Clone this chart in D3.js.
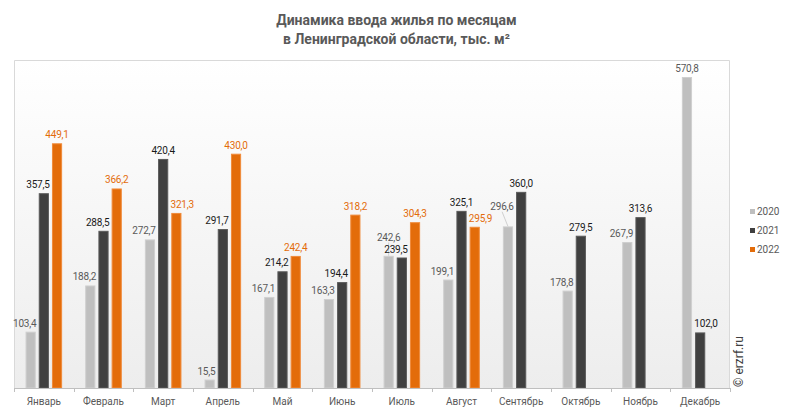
<!DOCTYPE html>
<html><head><meta charset="utf-8">
<script src="https://cdn.jsdelivr.net/npm/d3@7"></script>
<style>body{margin:0;background:#fff}svg{display:block}</style>
</head><body>
<script>
const months = ["Январь","Февраль","Март","Апрель","Май","Июнь","Июль","Август","Сентябрь","Октябрь","Ноябрь","Декабрь"];
const series = ["2020","2021","2022"];
const v2020 = [103.4,188.2,272.7,15.5,167.1,163.3,242.6,199.1,296.6,178.8,267.9,570.8];
const v2021 = [357.5,288.5,420.4,291.7,214.2,194.4,239.5,325.1,360.0,279.5,313.6,102.0];
const v2022 = [449.1,366.2,321.3,430.0,242.4,318.2,304.3,295.9,null,null,null,null];
const values = {"2020":v2020,"2021":v2021,"2022":v2022};
const colors = {"2020":"#bfbfbf","2021":"#404040","2022":"#e36c0a"};
const strokes = {"2020":"#cfcfcf","2021":"#5a5a5a","2022":"#f08a3a"};
const labelColors = {"2020":"#595959","2021":"#1a1a1a","2022":"#e36c0a"};
const titleLines = ["Динамика ввода жилья по месяцам","в Ленинградской области, тыс. м²"];

const W=793,H=415;
const L=14,R=730,T=60,B=388;
const FONT="Roboto, Arial, sans-serif";
const svg=d3.select("body").append("svg").attr("width",W).attr("height",H);
const defs=svg.append("defs");
const g=defs.append("linearGradient").attr("id","bg").attr("x1",0).attr("y1",0).attr("x2",0).attr("y2",1);
g.append("stop").attr("offset","0%").attr("stop-color","#ffffff");
g.append("stop").attr("offset","100%").attr("stop-color","#ededed");
svg.append("rect").attr("x",L).attr("y",T).attr("width",R-L).attr("height",B-T).attr("fill","url(#bg)");
svg.append("path").attr("d",`M${L+0.5},${B}V${T+0.5}H${R-0.5}V${B}`).attr("fill","none").attr("stroke","#d9d9d9").attr("stroke-width",1);

const x0=d3.scaleBand().domain(months).range([L,R]).padding(0);
const gw=x0.bandwidth()*0.613;
const x1=d3.scaleBand().domain(series).range([0,gw]).paddingInner(0.23).paddingOuter(0);
const y=d3.scaleLinear().domain([0,602]).range([B,T]);
const fmt=v=>v.toFixed(1).replace(".",",");

const barLayer=svg.append("g"), lineLayer=svg.append("g"), labelLayer=svg.append("g");
const bars=[];
months.forEach((m,i)=>{
  const gx=x0(m)+(x0.bandwidth()-gw)/2;
  series.forEach((s,si)=>{
    const v=values[s][i];
    if(v==null) return;
    const bx=gx+x1(s);
    barLayer.append("rect").attr("x",bx+0.5).attr("y",y(v)+0.5).attr("width",x1.bandwidth()-1).attr("height",Math.max(0,B-y(v)-0.5))
      .attr("fill",colors[s]).attr("stroke",strokes[s]).attr("stroke-width",1);
    bars.push({m:i,si:si,s:s,v:v,x:bx,w:x1.bandwidth(),top:y(v)});
  });
});

// labels: centred above bar, nudged away from taller neighbouring bars, then lifted (with leader line) if they collide
const placed=[];
const LH=9, GAP=2;
const order=bars.slice().sort((a,b)=>(a.m-b.m) || (b.si-a.si));
order.forEach(b=>{
  const txt=fmt(b.v);
  const w=txt.replace(",","").length*5.4+2.4;
  let cx=b.x+b.w/2, base=b.top-5;
  const right=bars.find(o=>o.m===b.m && o.si===b.si+1);
  const left=bars.find(o=>o.m===b.m && o.si===b.si-1);
  if(right && right.top<base && cx+w/2>right.x-GAP) cx=right.x-GAP-w/2;
  else if(left && left.top<base && cx-w/2<left.x+left.w+GAP) cx=left.x+left.w+GAP+w/2;
  let moved=false;
  for(let k=0;k<20;k++){
    const hit=placed.find(p=>Math.abs(p.cx-cx)<(p.w+w)/2+4 && Math.abs(p.base-base)<LH+1);
    if(!hit) break;
    base=hit.base-LH-3; moved=true;
  }
  labelLayer.append("text").attr("x",cx).attr("y",base).attr("text-anchor","middle").attr("font-family",FONT).attr("font-size",10)
    .attr("letter-spacing","-0.2").attr("fill",labelColors[b.s]).text(txt);
  placed.push({cx:cx,base:base,w:w});
  if(moved){
    lineLayer.append("line").attr("x1",cx).attr("y1",base+2).attr("x2",b.x+b.w/2).attr("y2",b.top)
      .attr("stroke","#d0d0d0").attr("stroke-width",1);
  }
});

const ax=svg.append("g").attr("transform",`translate(0,${B})`);
ax.append("line").attr("x1",L).attr("x2",R).attr("y1",0.5).attr("y2",0.5).attr("stroke","#bfbfbf");
const ticks=months.map(m=>x0(m)).concat([R]);
ticks.forEach(t=>ax.append("line").attr("x1",Math.round(t)+0.5).attr("x2",Math.round(t)+0.5).attr("y1",0).attr("y2",4).attr("stroke","#bfbfbf"));
months.forEach(m=>ax.append("text").attr("x",x0(m)+x0.bandwidth()/2).attr("y",17)
  .attr("text-anchor","middle").attr("font-family",FONT).attr("font-size",10).attr("fill","#595959").text(m));

titleLines.forEach((t,i)=>svg.append("text").attr("x",W/2).attr("y",25+i*19).attr("text-anchor","middle")
  .attr("font-family",FONT).attr("font-weight","bold").attr("font-size",14).attr("fill","#595959").text(t));

series.forEach((s,i)=>{
  const ly=212+i*19;
  svg.append("rect").attr("x",750).attr("y",ly-3).attr("width",5).attr("height",5).attr("fill",colors[s]);
  svg.append("text").attr("x",757).attr("y",ly+3).attr("font-family",FONT).attr("font-size",10).attr("fill","#595959").text(s);
});

svg.append("text").attr("transform",`translate(743,387) rotate(-90)`).attr("font-family",FONT)
  .attr("font-size",12).attr("fill","#404040").text("© erzrf.ru");
</script>
</body></html>
